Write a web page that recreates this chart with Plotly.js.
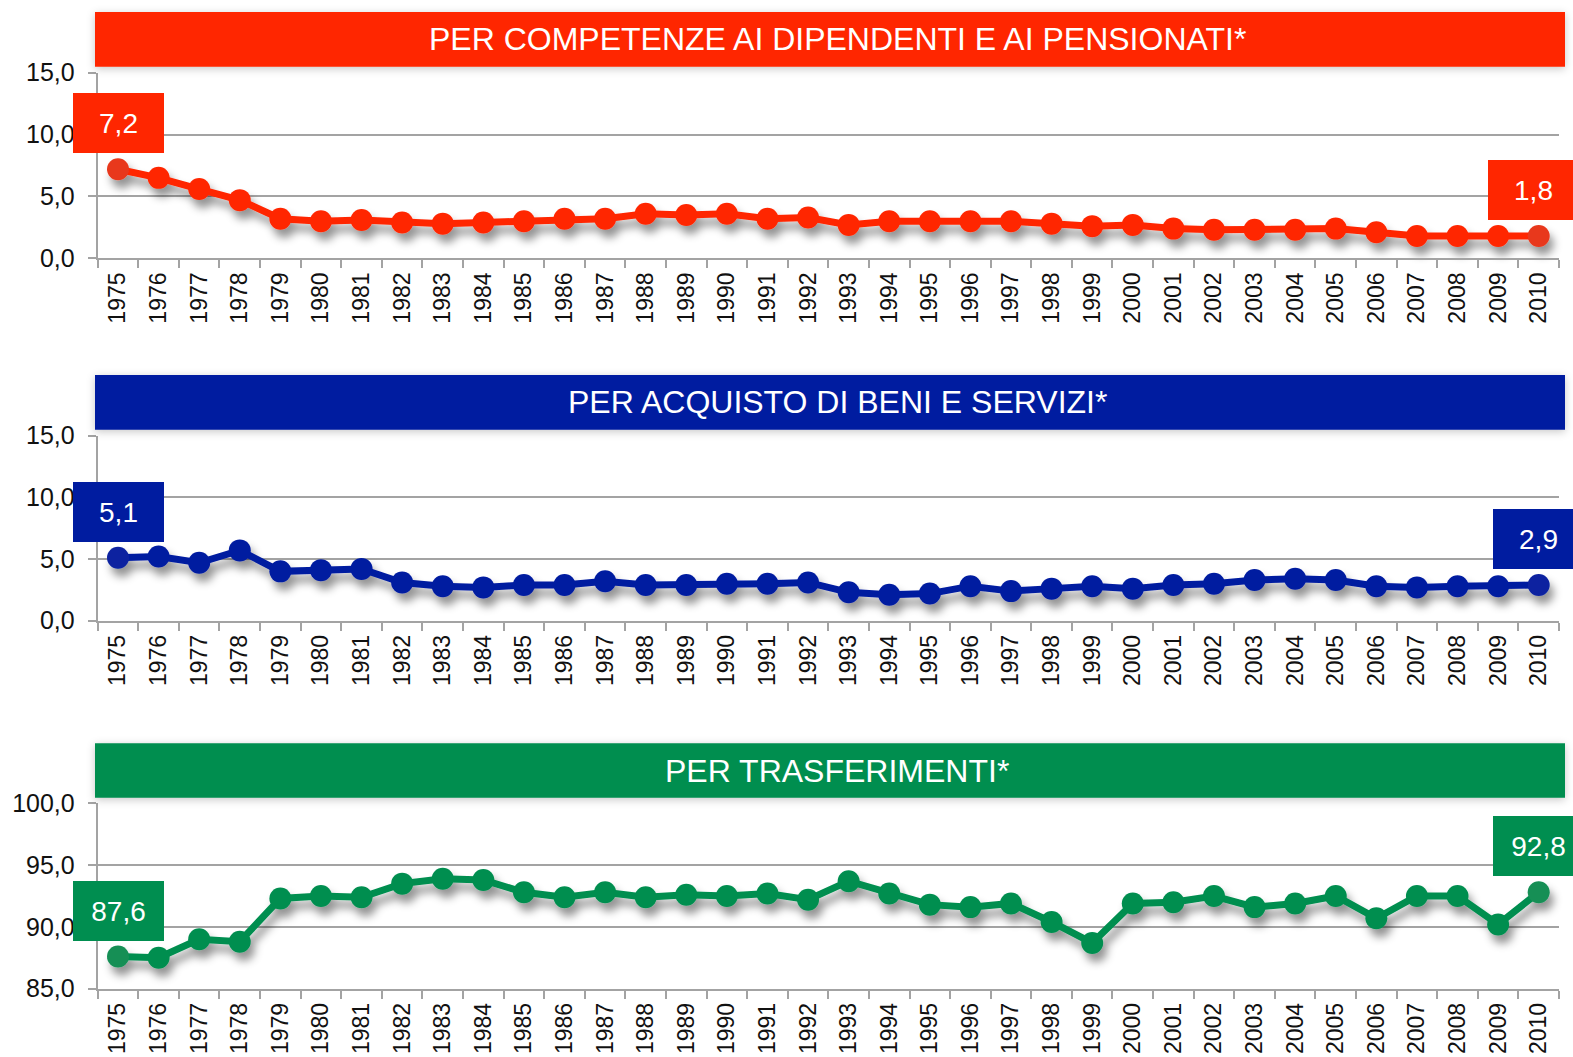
<!DOCTYPE html>
<html>
<head>
<meta charset="utf-8">
<script src="https://cdn.plot.ly/plotly-3.0.1.min.js"></script>
<style>
  html, body { margin: 0; padding: 0; background: #ffffff; }
  #chart { width: 1573px; height: 1057px; }
  #chart .scatterlayer .trace { filter: url(#lineShadow); }
  #chart .shapelayer path { filter: url(#bannerShadow); }
</style>
</head>
<body>
<svg width="0" height="0" style="position:absolute">
  <defs>
    <filter id="lineShadow" x="-10%" y="-60%" width="125%" height="260%">
      <feDropShadow dx="4" dy="8" stdDeviation="4" flood-color="#000000" flood-opacity="0.42"/>
    </filter>
    <filter id="bannerShadow" x="-5%" y="-40%" width="110%" height="180%">
      <feDropShadow dx="0" dy="2" stdDeviation="4" flood-color="#000000" flood-opacity="0.22"/>
    </filter>
  </defs>
</svg>
<div id="chart"></div>
<script>
// ---------------- DATA ----------------
const years = ['1975','1976','1977','1978','1979','1980','1981','1982','1983','1984',
               '1985','1986','1987','1988','1989','1990','1991','1992','1993','1994',
               '1995','1996','1997','1998','1999','2000','2001','2002','2003','2004',
               '2005','2006','2007','2008','2009','2010'];

const competenze = [7.2,6.5,5.6,4.7,3.2,3.0,3.1,2.9,2.8,2.9,
                    3.0,3.2,3.2,3.6,3.5,3.6,3.2,3.3,2.7,3.0,
                    3.0,3.0,3.0,2.8,2.6,2.7,2.4,2.3,2.3,2.3,
                    2.4,2.1,1.8,1.8,1.8,1.8];

const beni = [5.1,5.2,4.7,5.7,4.0,4.1,4.2,3.1,2.8,2.7,
              2.9,2.9,3.2,2.9,2.9,3.0,3.0,3.1,2.3,2.1,
              2.2,2.8,2.4,2.6,2.8,2.6,2.9,3.0,3.3,3.4,
              3.3,2.8,2.7,2.8,2.8,2.9];

const trasferimenti = [87.6,87.5,89.0,88.8,92.3,92.5,92.4,93.5,93.9,93.8,
                       92.8,92.4,92.8,92.4,92.6,92.5,92.7,92.2,93.7,92.7,
                       91.8,91.6,91.9,90.4,88.7,91.9,92.0,92.5,91.6,91.9,
                       92.5,90.7,92.5,92.5,90.2,92.8];

const panelTitles = ['PER COMPETENZE AI DIPENDENTI E AI PENSIONATI*',
                     'PER ACQUISTO DI BENI E SERVIZI*',
                     'PER TRASFERIMENTI*'];
const yRanges = [[0, 15], [0, 15], [85, 100]];

// ---------------- STYLE ----------------
const colors = ['#FF2600', '#001CA0', '#008E50'];
const endColors = ['#E8381C', '#0A24A0', '#148F55'];
const series = [competenze, beni, trasferimenti];

const W = 1573, H = 1057;
const xDom = [97.7 / W, 1559 / W];
const plotTopBottom = [[72.7, 258.3], [435.7, 620.7], [803.3, 988.7]];
const bannerTopBottom = [[12, 66.7], [375, 429.7], [743.3, 797.7]];
const rightShift = [-5, 0, 0];

const fmt = v => v.toFixed(1).replace('.', ',');
const regular = '"Liberation Sans", Arial, sans-serif';
const grid = '#A3A3A3';

const traces = [];
const layout = {
  width: W, height: H, autosize: false,
  margin: {l: 0, r: 0, t: 0, b: 0, pad: 0},
  paper_bgcolor: '#ffffff', plot_bgcolor: '#ffffff',
  showlegend: false,
  separators: ',.',
  shapes: [], annotations: []
};

for (let k = 0; k < 3; k++) {
  const sfx = k === 0 ? '' : String(k + 1);
  const vals = series[k];
  const mcol = vals.map((v, i) => (i === 0 || i === vals.length - 1) ? endColors[k] : colors[k]);
  traces.push({
    type: 'scatter', mode: 'lines+markers',
    x: years, y: vals,
    xaxis: 'x' + sfx, yaxis: 'y' + sfx,
    line: {color: colors[k], width: 7},
    marker: {color: mcol, size: 22, line: {width: 0}},
    cliponaxis: false,
    hoverinfo: 'x+y'
  });

  const tb = plotTopBottom[k];
  layout['xaxis' + sfx] = {
    type: 'category', domain: xDom, anchor: 'y' + sfx,
    range: [-0.5, years.length - 0.5], autorange: false,
    categoryorder: 'array', categoryarray: years,
    showgrid: false, zeroline: false,
    showline: true, linecolor: grid, linewidth: 2,
    ticks: 'outside', tickson: 'boundaries', ticklen: 8, tickwidth: 2, tickcolor: grid,
    tickangle: -90, tickfont: {family: regular, size: 23, color: '#111111'},
    ticklabelstandoff: 3,
    fixedrange: true
  };
  layout['yaxis' + sfx] = {
    domain: [1 - tb[1] / H, 1 - tb[0] / H], anchor: 'x' + sfx,
    range: yRanges[k], autorange: false, dtick: 5, tick0: 0, tickformat: '.1f',
    showgrid: true, gridcolor: grid, gridwidth: 2, zeroline: false,
    showline: true, linecolor: grid, linewidth: 2,
    ticks: 'outside', ticklen: 8, tickwidth: 2, tickcolor: grid,
    tickfont: {family: regular, size: 25, color: '#111111'},
    ticklabelstandoff: 8,
    fixedrange: true
  };

  const bb = bannerTopBottom[k];
  layout.shapes.push({
    type: 'rect', xref: 'paper', yref: 'paper',
    x0: 95 / W, x1: 1565 / W, y0: 1 - bb[1] / H, y1: 1 - bb[0] / H,
    fillcolor: colors[k], line: {width: 0}, layer: 'above'
  });
  layout.annotations.push({
    xref: 'paper', yref: 'paper', x: 837 / W, y: 1 - (bb[0] + bb[1]) / 2 / H,
    xanchor: 'center', yanchor: 'middle', showarrow: false,
    text: panelTitles[k],
    font: {family: regular, size: 32, color: '#ffffff'}
  });

  // value callouts on the first and last point (category axis: x is the category index)
  const last = vals.length - 1;
  [[0, 0], [last, rightShift[k]]].forEach(([i, xs]) => {
    layout.annotations.push({
      xref: 'x' + sfx, yref: 'y' + sfx, x: i, y: vals[i],
      xanchor: 'center', yanchor: 'middle', showarrow: false,
      xshift: xs, yshift: 46,
      text: fmt(vals[i]),
      font: {family: regular, size: 28, color: '#ffffff'},
      bgcolor: colors[k], borderpad: 1, borderwidth: 0,
      width: 89, height: 58, align: 'center', valign: 'middle'
    });
  });
}

Plotly.newPlot('chart', traces, layout, {displayModeBar: false, responsive: false});
</script>
</body>
</html>
